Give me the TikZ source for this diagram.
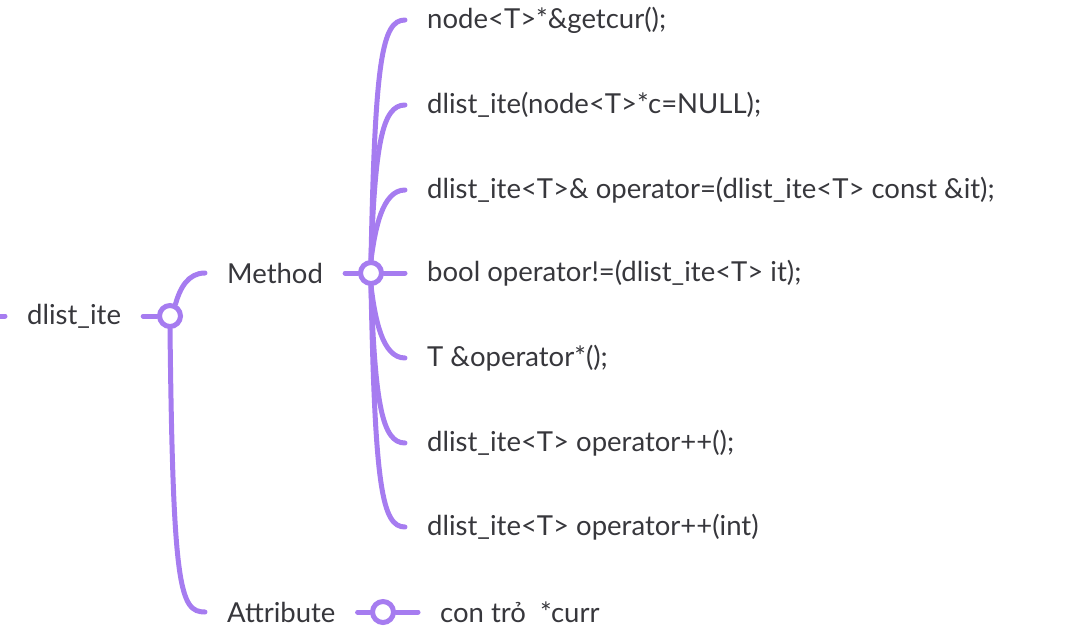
\documentclass[tikz,border=0pt]{standalone}
\usepackage{fontspec}
\setmainfont{Lato}
\definecolor{branch}{RGB}{166,124,240}
\definecolor{ink}{RGB}{55,55,60}
\tikzset{
  line/.style={draw=branch, line width=5pt, line cap=round},
  hub/.style={circle, draw=branch, fill=white, line width=5pt, minimum size=21pt, inner sep=0pt},
  topic/.style={anchor=west, text=ink, inner xsep=22pt, inner ysep=0pt,
    font=\fontsize{27.5}{32}\selectfont},
}
\begin{document}
\begin{tikzpicture}[x=1pt,y=-1pt]
  \useasboundingbox (0,0) rectangle (1069,641);

  % Root
  \coordinate (stub) at (-4,316);
  \node[topic] (root) at (5,316) {dlist\_ite};
  \node[hub] (hubroot) at (170,316) {};
  \draw[line] (stub) -- (root.west);
  \draw[line] (root.east) -- (hubroot.west);

  % Second level
  \node[topic] (method) at (205,273) {Method};
  \node[topic] (attr) at (205,612) {Attribute};
  \draw[line] (hubroot.65) .. controls (180,288) and (188,273) .. (method.west);
  \draw[line] (hubroot.south) .. controls (173,590) and (180,612) .. (attr.west);

  % Method children
  \node[hub] (hubmethod) at (371,273) {};
  \draw[line] (method.east) -- (hubmethod.west);
  \node[topic] (m1) at (405,20) {node<T>*\&getcur();};
  \node[topic] (m2) at (405,105) {dlist\_ite(node<T>*c=NULL);};
  \node[topic] (m3) at (405,190) {dlist\_ite<T>\& operator=(dlist\_ite<T> const \&it);};
  \node[topic] (m4) at (405,273) {bool operator!=(dlist\_ite<T> it);};
  \node[topic] (m5) at (405,358) {T \&operator*();};
  \node[topic] (m6) at (405,443) {dlist\_ite<T> operator++();};
  \node[topic] (m7) at (405,527) {dlist\_ite<T> operator++(int)};
  \draw[line] (hubmethod.north) .. controls (375,60) and (382,20) .. (m1.west);
  \draw[line] (hubmethod.north) .. controls (375,145) and (382,105) .. (m2.west);
  \draw[line] (hubmethod.north) .. controls (375,230) and (382,190) .. (m3.west);
  \draw[line] (hubmethod.east) -- (m4.west);
  \draw[line] (hubmethod.south) .. controls (375,318) and (382,358) .. (m5.west);
  \draw[line] (hubmethod.south) .. controls (375,403) and (382,443) .. (m6.west);
  \draw[line] (hubmethod.south) .. controls (375,487) and (382,527) .. (m7.west);

  % Attribute child
  \node[hub] (hubattr) at (383,612) {};
  \node[topic] (a1) at (418,612) {con trỏ\ \ *curr};
  \draw[line] (attr.east) -- (hubattr.west);
  \draw[line] (hubattr.east) -- (a1.west);
\end{tikzpicture}
\end{document}
